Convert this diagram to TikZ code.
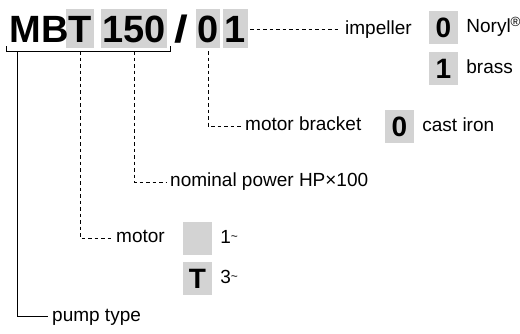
\documentclass[tikz,border=0pt]{standalone}
\usepackage{fontspec}
\setmainfont{Liberation Sans}
\usetikzlibrary{positioning,calc}
\definecolor{lightgrey}{RGB}{211, 211, 211}
\newcommand{\phase}[1]{#1\raisebox{0.3ex}{\fontsize{12}{12}\selectfont\textasciitilde}}

\begin{document}
\begin{tikzpicture}[x=1pt, y=-1pt,
code/.style ={font=\fontsize{38}{38}\selectfont\bfseries, inner sep=0pt, text height=27.2pt, text depth=0pt, minimum height=39pt},
codebox/.style ={code, fill=lightgrey},
digit/.style ={rectangle, fill=lightgrey, font=\fontsize{28}{28}\selectfont\bfseries, inner sep=0pt, text height=20pt, text depth=0pt, minimum width=29pt, minimum height=33pt},
desc/.style ={font=\fontsize{19}{21}\selectfont, inner sep=4pt, text height=10pt, text depth=0pt},
lead/.style ={-, line width=0.8pt, dash pattern=on 3.5pt off 3pt},
mainlead/.style ={-, line width=0.8pt},
]
\useasboundingbox (0,0) rectangle (520,334);

% type code
\node (T) [codebox, minimum width=28pt] at (80,28.5) {T};
\node (MB) [code, anchor=east] at (69,28.5) {MB};
\node (HP) [codebox, minimum width=66pt] at (134,28.5) {150};
\node (SL) [code, xscale=1.3] at (181,28.5) {/};
\node (BR) [codebox, minimum width=24pt] at (208,28.5) {0};
\node (IM) [codebox, minimum width=25pt] at (235.5,28.5) {1};

% descriptions
\node (IMP) [desc, anchor=west] at (341,29.5) {impeller};
\node (MBR) [desc, anchor=west] at (241,126) {motor bracket};
\node (NOM) [desc, anchor=west] at (166,182) {nominal power HP×100};
\node (MOT) [desc, anchor=west] at (112,238) {motor};
\node (PUMP) [desc, anchor=west] at (48,316) {pump type};

% options
\node (NOR) [digit] at (443.5,28) {0};
\node (BRA) [digit, below=7pt of NOR] {1};
\node (CAS) [digit] at (399.5,127) {0};
\node (MON) [digit] at (197.5,238.5) {};
\node (TRI) [digit, below=7pt of MON] {T};
\node (NORT) [desc, right=4pt of NOR] {Noryl\textsuperscript{\textregistered}};
\node (BRAT) [desc, right=4pt of BRA] {brass};
\node (CAST) [desc, right=4pt of CAS] {cast iron};
\node (MONT) [desc, right=4pt of MON] {\phase{1}};
\node (TRIT) [desc, right=4pt of TRI] {\phase{3}};

% bracket and leads
\coordinate (PT) at ($(MB.south west)+(8,3)$);
\draw[mainlead] ($(MB.south west)+(-3,-2)$) -- ++(0,5) -| ($(HP.south east)+(3,-2)$);
\draw[mainlead] (PT) |- (PUMP.west);
\draw[lead] ([xshift=2pt]IM.east |- IMP.west) -- (IMP.west);
\draw[lead] ([yshift=-3pt]BR.south) |- (MBR.west);
\draw[lead] ([yshift=-3pt]HP.south) |- (NOM.west);
\draw[lead] ([yshift=-3pt]T.south) |- (MOT.west);

\end{tikzpicture}
\end{document}
